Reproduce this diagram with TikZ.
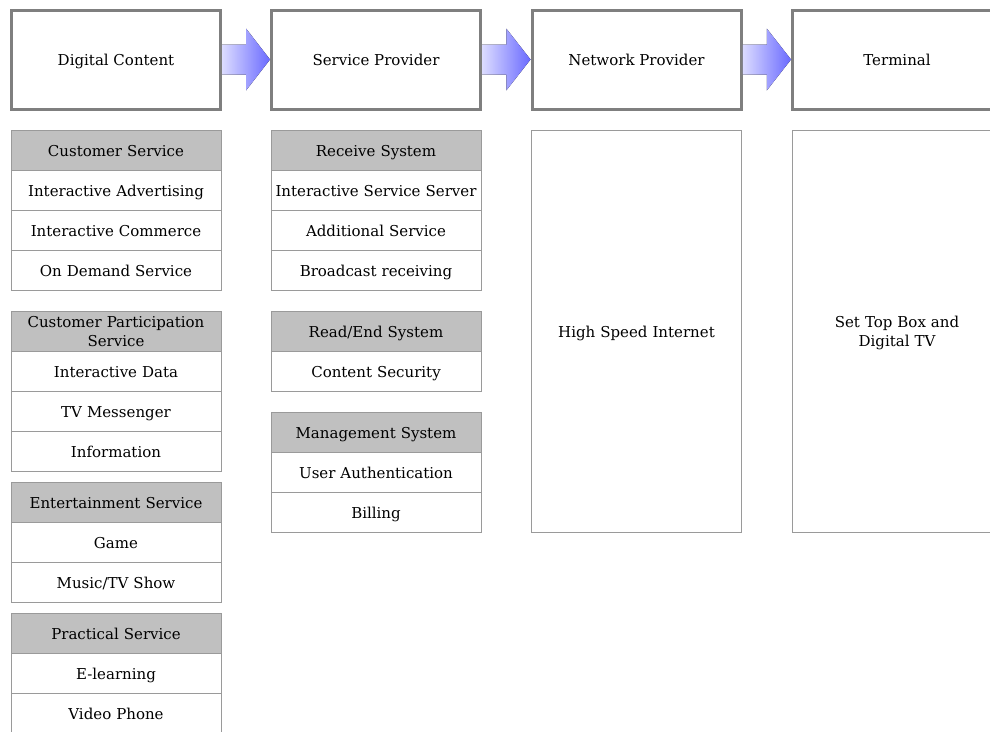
\documentclass[tikz,border=0pt]{standalone}
\usepackage{fontspec}
\setmainfont{DejaVu Serif}
\usetikzlibrary{calc}
\definecolor{boxgray}{HTML}{7F7F7F}
\definecolor{cellgray}{HTML}{9A9A9A}
\definecolor{headgray}{HTML}{C0C0C0}
\definecolor{arrowlight}{HTML}{DCDCFF}
\definecolor{arrowdark}{HTML}{6A6AFF}
\newcommand{\cellfont}{\fontsize{15}{19.5}\selectfont}
\begin{document}
\begin{tikzpicture}[x=1pt,y=-1pt,
  topbox/.style={draw=boxgray, line width=3pt, fill=white, minimum width=209pt, minimum height=99pt, inner sep=0pt, font=\cellfont, text height=12.5pt, text depth=0.5pt},
  cell/.style={draw=cellgray, line width=1pt, fill=white, minimum width=210pt, minimum height=40pt, inner sep=0pt, align=center, text width=208pt, font=\cellfont, text height=12.5pt, text depth=0.5pt},
  head/.style={cell, fill=headgray},
  twolines/.style={text depth=20pt},
  tall/.style={cell, minimum height=402pt},
  flow/.style={left color=arrowlight, right color=arrowdark}]
\useasboundingbox (0,0) rectangle (990,731);
\clip (0,0) rectangle (990,731);
\fill[white] (0,0) rectangle (990,731);

% top boxes
\node[topbox] (dc) at (116,59.5) {Digital Content};
\node[topbox] (sp) at (376,59.5) {Service Provider};
\node[topbox] (np) at (636.5,59.5) {Network Provider};
\node[topbox] (tm) at (897,59.5) {Terminal};

% flow arrows
\foreach \a/\b in {dc/sp, sp/np, np/tm}{
  \coordinate (m) at ($(\a.east)!0.5!(\b.west)$);
  \fill[flow] ($(\a.east)+(0,-15)$) -- ($(m)+(0,-15)$) -- ($(m)+(0,-31)$) -- (\b.west)
    -- ($(m)+(0,31)$) -- ($(m)+(0,15)$) -- ($(\a.east)+(0,15)$) -- cycle;
}

% column 1
\node[head] (cs) at (116,150) {Customer Service};
\node[cell] (cs1) at (116,190) {Interactive Advertising};
\node[cell] (cs2) at (116,230) {Interactive Commerce};
\node[cell] (cs3) at (116,270.5) {On Demand Service};

\node[head,twolines] (cp) at (116,331) {Customer Participation\\Service};
\node[cell] (cp1) at (116,371) {Interactive Data};
\node[cell] (cp2) at (116,411) {TV Messenger};
\node[cell] (cp3) at (116,451) {Information};

\node[head] (es) at (116,502) {Entertainment Service};
\node[cell] (es1) at (116,542) {Game};
\node[cell] (es2) at (116,582) {Music/TV Show};

\node[head] (ps) at (116,633) {Practical Service};
\node[cell] (ps1) at (116,673) {E-learning};
\node[cell] (ps2) at (116,713) {Video Phone};

% column 2
\node[head] (rs) at (376,150) {Receive System};
\node[cell] (rs1) at (376,190) {Interactive Service Server};
\node[cell] (rs2) at (376,230) {Additional Service};
\node[cell] (rs3) at (376,270.5) {Broadcast receiving};

\node[head] (re) at (376,331) {Read/End System};
\node[cell] (re1) at (376,371) {Content Security};

\node[head] (ms) at (376,432) {Management System};
\node[cell] (ms1) at (376,472) {User Authentication};
\node[cell] (ms2) at (376,512) {Billing};

% column 3 and 4
\node[tall] (hs) at (636.5,331) {High Speed Internet};
\node[tall,twolines] (st) at (897,331) {Set Top Box and\\Digital TV};
\end{tikzpicture}
\end{document}
